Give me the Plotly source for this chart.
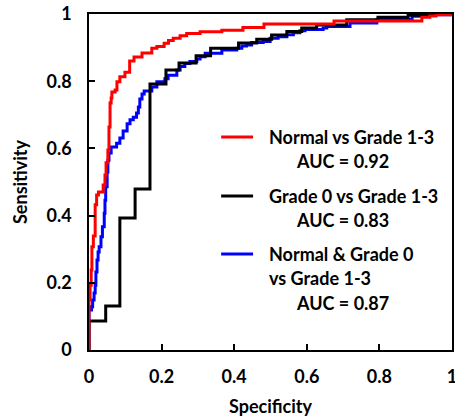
import plotly.graph_objects as go

# ---- data ----
red_x = [0, 0, 0.003, 0.006, 0.008, 0.012, 0.017, 0.021, 0.026, 0.039, 0.044, 0.047, 0.052,
         0.055, 0.058, 0.061, 0.063, 0.072, 0.077, 0.085, 0.099, 0.112, 0.124, 0.146, 0.173,
         0.187, 0.207, 0.219, 0.232, 0.251, 0.269, 0.306, 0.366, 0.424, 0.482, 0.675, 0.917,
         0.939, 0.956, 1.0]
red_y = [0, 0.149, 0.193, 0.238, 0.307, 0.339, 0.432, 0.461, 0.470, 0.491, 0.521, 0.557, 0.595,
         0.664, 0.735, 0.750, 0.768, 0.774, 0.798, 0.813, 0.827, 0.860, 0.872, 0.884, 0.898,
         0.903, 0.913, 0.921, 0.928, 0.935, 0.942, 0.947, 0.952, 0.960, 0.970, 0.979, 0.990,
         0.994, 0.998, 1.0]

black_x = [0, 0, 0.046, 0.085, 0.127, 0.168, 0.212, 0.248, 0.295, 0.335, 0.412, 0.462, 0.503,
           0.545, 0.586, 0.627, 0.710, 0.796, 0.879, 0.940, 1.0]
black_y = [0, 0.086, 0.131, 0.393, 0.479, 0.792, 0.833, 0.854, 0.876, 0.898, 0.914, 0.925, 0.9375,
           0.948, 0.958, 0.967, 0.983, 0.990, 0.996, 1.0, 1.0]

blue_x = [0, 0, 0.007, 0.010, 0.014, 0.017, 0.019, 0.022, 0.025, 0.028, 0.033, 0.037, 0.042,
          0.044, 0.046, 0.050, 0.052, 0.055, 0.061, 0.076, 0.085, 0.094, 0.105, 0.113, 0.122,
          0.131, 0.136, 0.140, 0.146, 0.152, 0.173, 0.187, 0.209, 0.218, 0.242, 0.251, 0.264,
          0.278, 0.297, 0.306, 0.320, 0.366, 0.407, 0.421, 0.434, 0.448, 0.480, 0.499, 0.521,
          0.545, 0.563, 0.581, 0.595, 0.645, 0.655, 0.719, 0.793, 0.890, 0.926, 1.0]
blue_y = [0, 0.119, 0.129, 0.149, 0.170, 0.193, 0.232, 0.268, 0.292, 0.307, 0.337, 0.367, 0.407,
          0.446, 0.486, 0.530, 0.565, 0.586, 0.604, 0.615, 0.631, 0.652, 0.673, 0.685, 0.693,
          0.705, 0.723, 0.747, 0.762, 0.771, 0.783, 0.798, 0.807, 0.818, 0.833, 0.844, 0.853,
          0.859, 0.866, 0.873, 0.883, 0.893, 0.898, 0.905, 0.908, 0.915, 0.918, 0.928, 0.932,
          0.938, 0.944, 0.950, 0.954, 0.958, 0.963, 0.973, 0.984, 0.993, 0.998, 1.0]

series_names = [["Normal vs Grade 1-3"], ["Grade 0 vs Grade 1-3"], ["Normal & Grade 0", "vs Grade 1-3"]]
auc_values = [0.92, 0.83, 0.87]
series_colors = ["#FF0000", "#000000", "#0000FF"]

tick_vals = [0, 0.2, 0.4, 0.6, 0.8, 1]
tick_text = ["0", "0.2", "0.4", "0.6", "0.8", "1"]

FONT = "Lato, 'Open Sans', sans-serif"

fig = go.Figure()
for xs, ys, col in [(blue_x, blue_y, series_colors[2]),
                    (black_x, black_y, series_colors[1]),
                    (red_x, red_y, series_colors[0])]:
    fig.add_trace(go.Scatter(x=xs, y=ys, mode="lines", line=dict(color=col, width=3, shape="hv"),
                             showlegend=False, hoverinfo="skip", cliponaxis=False))

axis_common = dict(range=[0, 1], tickvals=tick_vals, ticktext=tick_text, ticks="inside",
                   ticklen=6, tickwidth=1.5, tickcolor="#000", showline=True, linecolor="#000",
                   linewidth=1.5, mirror=True, showgrid=False, zeroline=False, automargin=False,
                   tickfont=dict(family=FONT, size=18, color="#000", weight="bold"),
                   ticklabeloverflow="allow")

fig.update_layout(
    width=455, height=420,
    margin=dict(l=89, r=3, t=14, b=70),
    paper_bgcolor="white", plot_bgcolor="white",
    xaxis=dict(**axis_common, ticklabelstandoff=10,
               title=dict(text="<b>Specificity</b>", font=dict(family=FONT, size=18, color="#000"),
                          standoff=14)),
    yaxis=dict(**axis_common, ticklabelstandoff=12,
               title=dict(text="<b>Sensitivity</b>", font=dict(family=FONT, size=18, color="#000"),
                          standoff=14)),
)

# ---- manual legend ----
line_y = [0.634, 0.458, 0.286]
row_gap = 0.0725
for i, names in enumerate(series_names):
    y0 = line_y[i]
    fig.add_shape(type="line", xref="paper", yref="paper", x0=0.364, x1=0.452, y0=y0, y1=y0,
                  line=dict(color=series_colors[i], width=3))
    for j, nm in enumerate(names):
        fig.add_annotation(xref="paper", yref="paper", x=0.49, y=y0 - j * row_gap,
                           text="<b>" + nm + "</b>", showarrow=False, xanchor="left",
                           yanchor="middle", font=dict(family=FONT, size=18, color="#000"))
    fig.add_annotation(xref="paper", yref="paper", x=0.564, y=y0 - len(names) * row_gap,
                       text="<b>AUC = %.2f</b>" % auc_values[i], showarrow=False, xanchor="left",
                       yanchor="middle", font=dict(family=FONT, size=18, color="#000"))

fig.write_html("out.html", config={"displayModeBar": False},
               post_script="document.body.style.margin='0';document.body.style.overflow='hidden';")
